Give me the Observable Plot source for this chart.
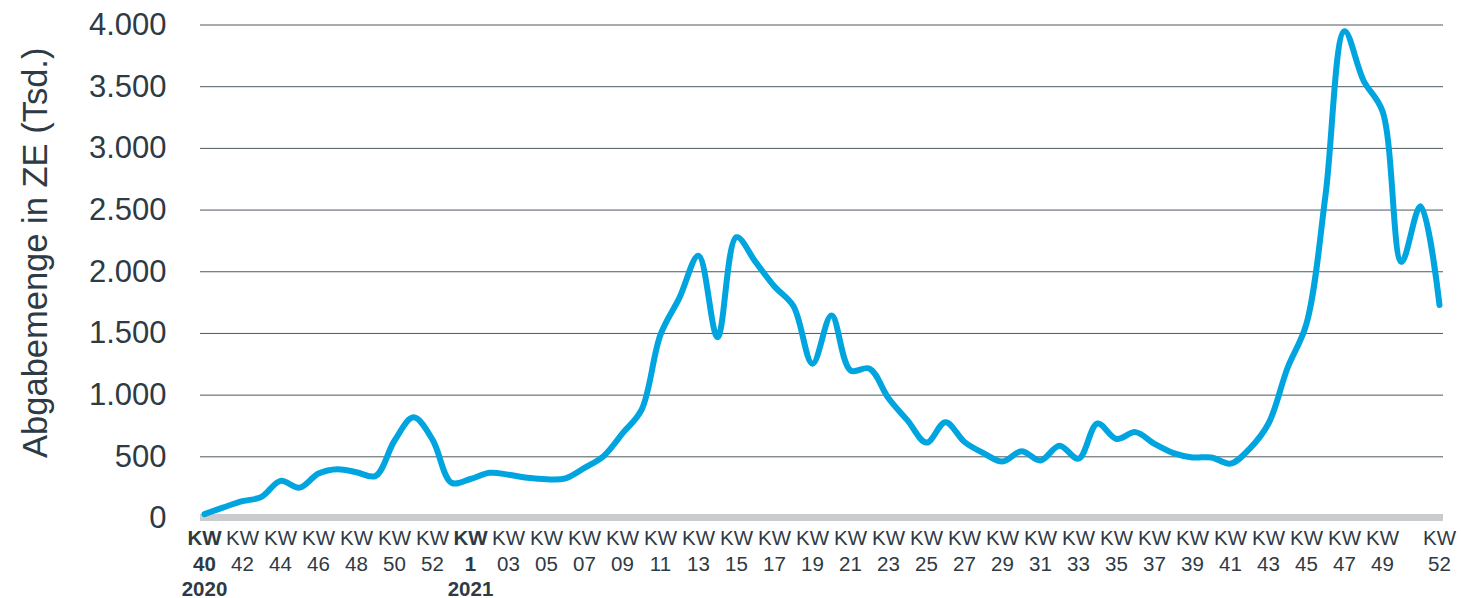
<!DOCTYPE html>
<html>
<head>
<meta charset="utf-8">
<script src="https://cdn.jsdelivr.net/npm/d3@7"></script>
<script src="https://cdn.jsdelivr.net/npm/@observablehq/plot@0.6"></script>
<style>
  html, body { margin: 0; padding: 0; background: #ffffff; }
  #chart { width: 1461px; height: 598px; overflow: hidden; }
</style>
</head>
<body>
<div id="chart"></div>
<script>
// Weeks (Kalenderwochen)
const weeks2020 = [40, 41, 42, 43, 44, 45, 46, 47, 48, 49, 50, 51, 52, 53];
const weeks2021 = [1, 2, 3, 4, 5, 6, 7, 8, 9, 10, 11, 12, 13, 14, 15, 16, 17, 18, 19, 20,
  21, 22, 23, 24, 25, 26, 27, 28, 29, 30, 31, 32, 33, 34, 35, 36, 37, 38, 39, 40,
  41, 42, 43, 44, 45, 46, 47, 48, 49, 50, 51, 52];

// Abgabemenge in ZE (Tsd.)
const values2020 = [35, 90, 140, 175, 305, 250, 365, 400, 375, 345, 630, 820, 640, 290];
const values2021 = [320, 370, 355, 330, 318, 325, 410, 505, 690, 880, 1490, 1790, 2130, 1470,
  2280, 2080, 1880, 1720, 1255, 1645, 1200, 1215, 975, 795, 615, 780, 620, 530, 462, 545,
  470, 590, 485, 770, 645, 700, 605, 530, 495, 495, 445, 565, 770, 1220, 1580, 2620, 3950,
  3550, 3300, 2080, 2530, 1730];

// Tick labels on the x axis
const tickKeys = ["2020-40", "2020-42", "2020-44", "2020-46", "2020-48", "2020-50", "2020-52",
  "2021-1", "2021-3", "2021-5", "2021-7", "2021-9", "2021-11", "2021-13", "2021-15", "2021-17",
  "2021-19", "2021-21", "2021-23", "2021-25", "2021-27", "2021-29", "2021-31", "2021-33",
  "2021-35", "2021-37", "2021-39", "2021-41", "2021-43", "2021-45", "2021-47", "2021-49", "2021-52"];
const tickNums = ["40", "42", "44", "46", "48", "50", "52",
  "1", "03", "05", "07", "09", "11", "13", "15", "17",
  "19", "21", "23", "25", "27", "29", "31", "33",
  "35", "37", "39", "41", "43", "45", "47", "49", "52"];
const boldKeys = ["2020-40", "2021-1"];
const yearLabels = ["2020", "2021"];

const yTicks = [0, 500, 1000, 1500, 2000, 2500, 3000, 3500, 4000];
const yTitle = "Abgabemenge in ZE (Tsd.)";

const data = [
  ...weeks2020.map((w, i) => ({key: `2020-${w}`, value: values2020[i]})),
  ...weeks2021.map((w, i) => ({key: `2021-${w}`, value: values2021[i]}))
];
const ticks = tickKeys.map((k, i) => ({key: k, num: tickNums[i], bold: boldKeys.includes(k)}));
const normalTicks = ticks.filter(d => !d.bold);
const boldTicks = ticks.filter(d => d.bold);
const yearTicks = boldKeys.map((k, i) => ({key: k, year: yearLabels[i]}));

const de = d3.formatLocale({decimal: ",", thousands: ".", grouping: [3], currency: ["", " €"]});
const fmt = de.format(",d");

const textColor = "#2e3a44";
const font = "'Liberation Sans', Arial, sans-serif";

const chart = Plot.plot({
  width: 1461,
  height: 598,
  marginLeft: 200,
  marginRight: 18,
  marginTop: 24.5,
  marginBottom: 80,
  style: {fontFamily: font, background: "#ffffff", color: textColor, overflow: "visible"},
  x: {type: "point", domain: data.map(d => d.key), padding: 0, axis: null},
  y: {domain: [0, 4000], axis: null},
  marks: [
    Plot.ruleY(yTicks.filter(t => t > 0), {stroke: "#4d5860", strokeWidth: 1}),
    Plot.ruleY([0], {stroke: "#c9cccf", strokeWidth: 7, dy: -1}),
    Plot.axisY(yTicks, {tickSize: 0, tickPadding: 34, fontSize: 31, tickFormat: fmt, label: null, fill: textColor}),
    Plot.text([yTitle], {frameAnchor: "left", textAnchor: "middle", rotate: -90, dx: -165, dy: -19, fontSize: 34.5, fill: textColor}),
    Plot.line(data, {x: "key", y: "value", stroke: "#00a5e0", strokeWidth: 6, curve: "catmull-rom", strokeLinecap: "round", strokeLinejoin: "round"}),
    Plot.text(normalTicks, {x: "key", frameAnchor: "bottom", dy: 26, text: () => "KW", fontSize: 20.5, fill: textColor}),
    Plot.text(normalTicks, {x: "key", frameAnchor: "bottom", dy: 52, text: "num", fontSize: 20.5, fill: textColor}),
    Plot.text(boldTicks, {x: "key", frameAnchor: "bottom", dy: 26, text: () => "KW", fontSize: 20.5, fontWeight: "bold", fill: textColor}),
    Plot.text(boldTicks, {x: "key", frameAnchor: "bottom", dy: 52, text: "num", fontSize: 20.5, fontWeight: "bold", fill: textColor}),
    Plot.text(yearTicks, {x: "key", frameAnchor: "bottom", dy: 77, text: "year", fontSize: 20.5, fontWeight: "bold", fill: textColor})
  ]
});
document.getElementById("chart").appendChild(chart);
</script>
</body>
</html>
